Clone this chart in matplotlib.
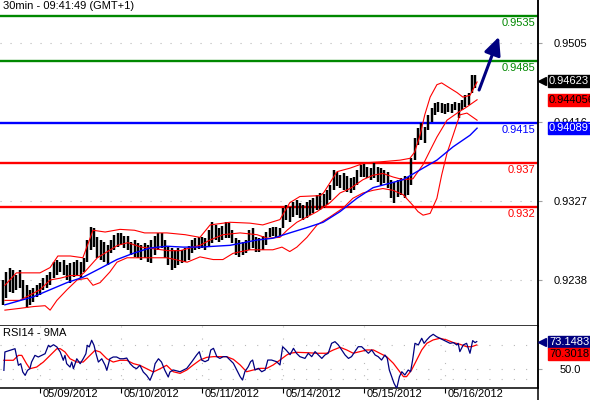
import matplotlib
matplotlib.use("Agg")
import matplotlib.pyplot as plt
from matplotlib import transforms
from matplotlib.lines import Line2D

# 30-min chart, bars read at hourly steps (hour 0 = 05/09 00:00, weekend skipped)
bar_hours = list(range(-11, 130))
bar_high = [0.9238, 0.9247, 0.9252, 0.9249, 0.9244, 0.9249, 0.9238, 0.9232, 0.9227, 0.9229, 0.9232,
            0.9235, 0.9240, 0.9244, 0.9247, 0.9258, 0.9260, 0.9258, 0.9260, 0.9255, 0.9257, 0.9258,
            0.9260, 0.9258, 0.9263, 0.9283, 0.9298, 0.9297, 0.9286, 0.9283, 0.9281, 0.9277, 0.9283,
            0.9289, 0.9291, 0.9291, 0.9288, 0.9288, 0.9281, 0.9283, 0.9280, 0.9277, 0.9280, 0.9277,
            0.9283, 0.9288, 0.9291, 0.9291, 0.9283, 0.9275, 0.9274, 0.9272, 0.9274, 0.9272, 0.9274,
            0.9276, 0.9283, 0.9285, 0.9286, 0.9286, 0.9285, 0.9294, 0.9303, 0.9300, 0.9297, 0.9299,
            0.9303, 0.9302, 0.9294, 0.9285, 0.9283, 0.9281, 0.9283, 0.9294, 0.9297, 0.9286, 0.9285,
            0.9288, 0.9292, 0.9297, 0.9298, 0.9298, 0.9297, 0.9319, 0.9322, 0.9320, 0.9326, 0.9328,
            0.9325, 0.9322, 0.9326, 0.9328, 0.9330, 0.9334, 0.9336, 0.9335, 0.9339, 0.9345, 0.9362,
            0.9360, 0.9356, 0.9359, 0.9355, 0.9353, 0.9354, 0.9362, 0.9367, 0.9369, 0.9365, 0.9364,
            0.9370, 0.9365, 0.9364, 0.9362, 0.9360, 0.9351, 0.9348, 0.9351, 0.9353, 0.9355, 0.9354,
            0.9375, 0.9398, 0.9409, 0.9415, 0.9410, 0.9424, 0.9432, 0.9437, 0.9438, 0.9437, 0.9436,
            0.9437, 0.9436, 0.9438, 0.9437, 0.9441, 0.9446, 0.9449, 0.9469, 0.9469]
bar_low = [0.9210, 0.9218, 0.9224, 0.9223, 0.9227, 0.9229, 0.9215, 0.9206, 0.9210, 0.9213, 0.9219,
           0.9221, 0.9227, 0.9229, 0.9232, 0.9240, 0.9244, 0.9247, 0.9244, 0.9238, 0.9235, 0.9241,
           0.9244, 0.9240, 0.9247, 0.9258, 0.9272, 0.9275, 0.9263, 0.9260, 0.9258, 0.9255, 0.9268,
           0.9272, 0.9275, 0.9277, 0.9274, 0.9272, 0.9266, 0.9264, 0.9263, 0.9260, 0.9263, 0.9258,
           0.9257, 0.9266, 0.9272, 0.9274, 0.9263, 0.9255, 0.9249, 0.9252, 0.9255, 0.9257, 0.9258,
           0.9260, 0.9268, 0.9272, 0.9273, 0.9274, 0.9272, 0.9275, 0.9280, 0.9283, 0.9281, 0.9283,
           0.9285, 0.9285, 0.9280, 0.9266, 0.9264, 0.9266, 0.9268, 0.9272, 0.9274, 0.9270, 0.9270,
           0.9272, 0.9277, 0.9286, 0.9288, 0.9286, 0.9288, 0.9297, 0.9306, 0.9303, 0.9309, 0.9311,
           0.9308, 0.9306, 0.9308, 0.9311, 0.9313, 0.9317, 0.9317, 0.9319, 0.9322, 0.9328, 0.9339,
           0.9344, 0.9342, 0.9339, 0.9337, 0.9336, 0.9339, 0.9345, 0.9354, 0.9354, 0.9353, 0.9351,
           0.9353, 0.9348, 0.9345, 0.9347, 0.9342, 0.9330, 0.9325, 0.9331, 0.9334, 0.9330, 0.9334,
           0.9345, 0.9373, 0.9390, 0.9396, 0.9392, 0.9407, 0.9416, 0.9424, 0.9427, 0.9426, 0.9425,
           0.9427, 0.9426, 0.9429, 0.9420, 0.9429, 0.9433, 0.9435, 0.9449, 0.9454]
last_price = 0.94623

upper_hours = [-10.4, -7, 0, 3, 5.3, 9, 12.7, 15.7, 19.3, 23.7, 28, 31, 37.6, 43, 47.4, 50.4, 56.3,
               62.2, 66, 71.1, 74, 77, 83, 84, 86, 88, 91.9, 96.3, 100.7, 106.7, 109.6, 111, 112.6,
               114, 115.6, 117.6, 119, 121.5, 123.6, 125.3, 127.4, 129.5]
upper_band = [0.9232, 0.9246, 0.9246, 0.9252, 0.9265, 0.9265, 0.9263, 0.9294, 0.9292, 0.9295, 0.9294,
              0.9291, 0.9291, 0.9289, 0.9286, 0.9300, 0.9303, 0.9302, 0.9300, 0.9306, 0.9325, 0.9332,
              0.9333, 0.9336, 0.9348, 0.9360, 0.9364, 0.9370, 0.9371, 0.9373, 0.9375, 0.9382, 0.9401,
              0.9424, 0.9444, 0.9458, 0.9460, 0.9454, 0.9449, 0.9444, 0.9446, 0.9461]
mid_hours = [-10.4, -6, 0, 3, 6, 9, 12, 13, 17, 20, 23, 26, 30, 34, 38, 41.5, 44.4, 47.4, 50.4, 54.2,
             59.3, 64.3, 67.3, 71.1, 73.2, 76.1, 79.1, 82.1, 85.9, 88.9, 91.9, 95.7, 98.7, 101.6, 104.6,
             107.6, 110.5, 113.5, 115.6, 117.6, 120.6, 123.6, 126.5, 129.5]
mid_band = [0.9215, 0.9215, 0.9227, 0.9238, 0.9240, 0.9243, 0.9243, 0.9246, 0.9263, 0.9270, 0.9277,
            0.9280, 0.9275, 0.9273, 0.9271, 0.9271, 0.9274, 0.9277, 0.9283, 0.9289, 0.9291, 0.9289,
            0.9285, 0.9286, 0.9294, 0.9303, 0.9309, 0.9315, 0.9325, 0.9336, 0.9341, 0.9351, 0.9356,
            0.9358, 0.9354, 0.9351, 0.9352, 0.9368, 0.9384, 0.9399, 0.9418, 0.9426, 0.9433, 0.9441]
lower_hours = [-10.4, -6, -2, 1.5, 3, 5, 8, 11, 14, 15.7, 17.8, 20.7, 22.8, 25.8, 32.6, 37.6, 43.6,
               47.4, 51.3, 54.2, 57.2, 62.2, 69, 71.7, 74, 76.1, 79.1, 82.1, 85.9, 89.8, 92.7, 95.7,
               98.7, 101.6, 104.6, 107.6, 110.5, 112, 113.5, 115.6, 117.6, 119, 120.6, 122.4, 124.4,
               126.5, 129.5]
lower_band = [0.9204, 0.9206, 0.9208, 0.9209, 0.9204, 0.9215, 0.9227, 0.9238, 0.9240, 0.9232, 0.9235,
              0.9247, 0.9258, 0.9263, 0.9263, 0.9263, 0.9258, 0.9264, 0.9261, 0.9261, 0.9268, 0.9272,
              0.9272, 0.9275, 0.9270, 0.9275, 0.9286, 0.9300, 0.9309, 0.9319, 0.9330, 0.9336, 0.9339,
              0.9341, 0.9339, 0.9334, 0.9322, 0.9315, 0.9311, 0.9313, 0.9330, 0.9356, 0.9381, 0.9401,
              0.9424, 0.9426, 0.9418]
slow_ma_hours = [-10.4, -2, 3, 8, 12.7, 17.8, 22.8, 27.6, 32.6, 37.6, 42.4, 47.4, 56.3, 64.3, 69, 74,
                 79.1, 83.9, 88.9, 93.9, 98.7, 103.7, 107.6, 112.6, 117.6, 122.4, 127.4, 129.5]
slow_ma = [0.9210, 0.9219, 0.9227, 0.9235, 0.9241, 0.9251, 0.9261, 0.9268, 0.9274, 0.9276, 0.9275,
           0.9275, 0.9277, 0.9283, 0.9285, 0.9291, 0.9297, 0.9303, 0.9315, 0.9330, 0.9342, 0.9347,
           0.9351, 0.9362, 0.9373, 0.9388, 0.9401, 0.9409]

levels = [0.9535, 0.9485, 0.9415, 0.937, 0.932]
level_labels = ["0.9535", "0.9485", "0.9415", "0.937", "0.932"]
level_colors = ["#008800", "#008800", "#0000ff", "#ff0000", "#ff0000"]

price_ticks = [0.9505, 0.9416, 0.9327, 0.9238]
price_tick_labels = ["0.9505", "0.9416", "0.9327", "0.9238"]

arrow_start = (130.1, 0.9452)
arrow_end = (136.0, 0.9512)

rsi_hours = [-10.7, -10.4, -8.9, -7.4, -6.9, -6.4, -5.7, -5.1, -4.4, -3.7, -3.0, -2.5, -1.5, -0.5, 0.5,
             1.5, 2.5, 3.0, 4.0, 5.0, 6.0, 6.9, 7.4, 7.9, 8.9, 9.4, 9.9, 10.9, 11.9, 12.8, 13.6, 14.0,
             14.6, 15.3, 16.0, 16.6, 17.3, 18.3, 19.3, 19.8, 20.7, 21.7, 22.7, 23.7, 24.7, 25.7, 26.7,
             27.7, 28.6, 29.6, 30.6, 31.6, 32.6, 33.6, 34.1, 35.1, 36.0, 37.0, 38.0, 38.5, 39.5, 41.5,
             43.5, 45.0, 46.4, 47.2, 47.9, 48.9, 49.9, 50.6, 51.4, 52.4, 53.3, 54.3, 55.3, 56.3, 57.3,
             58.3, 59.3, 60.0, 60.7, 61.7, 62.4, 63.0, 63.7, 64.7, 65.7, 66.7, 67.5, 68.6, 70.1, 71.1,
             71.9, 72.9, 74.1, 75.1, 76.0, 77.0, 78.5, 79.5, 80.5, 81.5, 82.5, 83.5, 84.4, 85.4, 86.4,
             87.4, 88.4, 89.4, 90.4, 91.4, 92.3, 93.3, 94.3, 95.3, 96.3, 97.3, 98.3, 99.3, 100.2, 101.2,
             102.2, 102.9, 103.5, 104.2, 104.9, 105.7, 106.5, 107.2, 108.1, 109.1, 109.8, 110.4, 111.1,
             112.1, 113.1, 113.8, 114.6, 115.5, 116.5, 117.5, 118.5, 119.5, 120.5, 121.5, 122.5, 123.5,
             123.9, 124.4, 125.4, 126.4, 127.4, 128.2, 128.9, 129.4]
rsi_values = [48.6, 64.3, 65.7, 67.1, 60.0, 52.9, 54.3, 47.2, 44.3, 48.6, 50.0, 55.7, 61.4, 60.0, 61.4,
              62.8, 70.0, 68.6, 70.5, 68.6, 64.3, 57.2, 61.4, 54.3, 51.4, 55.7, 50.0, 58.5, 54.3, 58.5,
              62.8, 70.0, 68.6, 74.3, 70.0, 62.8, 55.7, 58.5, 52.9, 48.6, 58.5, 60.0, 60.0, 58.5, 58.5,
              59.1, 54.3, 51.4, 50.0, 52.9, 47.2, 44.3, 40.1, 47.2, 54.3, 58.5, 55.7, 48.6, 42.9, 47.2,
              48.9, 47.4, 50.3, 56.0, 61.7, 64.5, 57.4, 56.0, 57.4, 66.0, 67.4, 60.3, 58.8, 60.3, 60.3,
              57.4, 54.6, 48.9, 43.2, 40.3, 47.4, 51.7, 56.0, 57.4, 48.9, 50.3, 47.4, 48.9, 57.4, 57.4,
              56.0, 53.2, 68.8, 66.0, 62.0, 67.4, 63.2, 60.3, 58.8, 63.2, 60.3, 64.6, 61.7, 58.8, 61.7,
              63.2, 71.7, 73.1, 70.3, 66.0, 61.7, 58.8, 60.3, 64.6, 68.8, 68.8, 66.0, 63.2, 66.0, 61.7,
              60.3, 57.4, 61.7, 58.8, 48.9, 43.2, 37.5, 33.2, 43.2, 47.4, 44.6, 48.9, 47.4, 57.4, 71.7,
              70.3, 76.0, 71.7, 74.6, 77.4, 79.4, 77.4, 76.0, 74.6, 73.1, 71.7, 72.3, 70.3, 71.7, 64.6,
              70.3, 71.7, 63.2, 74.0, 72.3, 73.1483]
rsi_ma_hours = [-10.7, -7.9, -6.4, -5.4, -4.0, -3.0, -1.0, 1.0, 3.0, 5.0, 6.0, 7.4, 8.9, 10.9, 12.8,
                14.8, 16.3, 17.8, 19.8, 21.7, 23.7, 25.7, 27.7, 29.6, 31.6, 33.6, 35.6, 37.5, 39.5, 41.5,
                43.5, 45.4, 47.4, 49.4, 51.4, 53.3, 55.3, 57.3, 59.3, 61.2, 63.2, 65.2, 67.2, 69.1, 71.1,
                73.1, 74.1, 76.0, 79.0, 82.0, 84.9, 86.9, 88.9, 90.9, 92.8, 94.8, 96.8, 98.8, 100.7,
                102.7, 104.7, 106.2, 107.7, 108.6, 110.1, 111.6, 113.1, 114.6, 116.5, 118.5, 120.5,
                122.5, 124.4, 126.4, 127.9, 129.4]
rsi_ma_values = [57.2, 57.2, 61.4, 61.4, 54.3, 50.0, 51.4, 55.7, 61.4, 67.1, 67.1, 64.3, 58.5, 55.7,
                 55.7, 61.4, 65.7, 64.3, 58.5, 55.7, 57.2, 57.2, 54.3, 52.9, 50.0, 47.2, 50.0, 52.9,
                 47.4, 46.0, 48.9, 53.2, 57.4, 59.7, 60.3, 60.3, 60.3, 58.0, 53.2, 47.4, 48.9, 50.3,
                 50.3, 53.2, 57.4, 61.7, 63.2, 64.0, 63.7, 63.2, 63.2, 66.0, 68.3, 66.0, 63.2, 64.6,
                 66.0, 66.0, 63.2, 60.3, 54.6, 48.9, 43.2, 43.2, 48.9, 57.4, 66.0, 71.7, 74.6, 76.0,
                 74.6, 72.3, 70.9, 68.8, 68.8, 70.3018]
rsi_grid = [70, 50, 41]

date_hours = [0, 24, 48, 72, 96, 120]
date_labels = ["05/09/2012", "05/10/2012", "05/11/2012", "05/14/2012", "05/15/2012", "05/16/2012"]

plt.rcParams["font.family"] = ["Liberation Sans", "DejaVu Sans"]
plt.rcParams["font.size"] = 8

W, H = 590, 400
fig = plt.figure(figsize=(W / 100, H / 100), dpi=100)
ax = fig.add_axes([0, 1 - 326 / H, 538 / W, 326 / H])
ax2 = fig.add_axes([0, 1 - 388 / H, 538 / W, 62 / H], sharex=ax)

# price panel
ax.vlines(bar_hours, bar_low, bar_high, color="black", lw=1.75, zorder=3)
ax.plot(upper_hours, upper_band, color="red", lw=0.8, zorder=4)
ax.plot(mid_hours, mid_band, color="red", lw=0.8, zorder=4)
ax.plot(lower_hours, lower_band, color="red", lw=0.8, zorder=4)
ax.plot(slow_ma_hours, slow_ma, color="#0000ff", lw=1.0, zorder=4)

for lvl, lab, col in zip(levels, level_labels, level_colors):
    ax.axhline(lvl, color=col, lw=1.7, zorder=2)
    ax.annotate(lab, xy=(1, lvl), xycoords=("axes fraction", "data"), xytext=(-2, -1.5),
                textcoords="offset points", ha="right", va="top", color=col)

ax.annotate("", xy=arrow_end, xytext=arrow_start,
            arrowprops=dict(arrowstyle="-|>,head_length=0.6,head_width=0.28", color="#000080",
                            lw=2.2, mutation_scale=18, shrinkA=0, shrinkB=0))

ax.set_xlim(-40 / 3.375, 498 / 3.375)
ax.set_ylim(0.955340 - 326 * 0.00011266, 0.955340)
ax.yaxis.tick_right()
ax.set_yticks(price_ticks)
ax.set_yticklabels(price_tick_labels)
ax.tick_params(axis="y", length=3, color="#a0a0a0", pad=20.5)
for lbl in ax.get_yticklabels():
    lbl.set_ha("center")
ax.tick_params(axis="x", bottom=False, labelbottom=False)
ax.yaxis.grid(True, color="#b8b8b8", lw=0.8, linestyle=(0, (1, 8)))
for s in ["top", "left"]:
    ax.spines[s].set_visible(False)
ax.spines["bottom"].set_linewidth(1.1)
ax.spines["right"].set_linewidth(1.1)

# RSI panel
for g in rsi_grid:
    ax2.axhline(g, color="#b8b8b8", lw=0.8, linestyle=(0, (1, 10)), zorder=1)
for d in date_hours:
    ax2.axvline(d, color="#b8b8b8", lw=0.8, linestyle=(0, (1, 10)), zorder=1)
ax2.plot(rsi_ma_hours, rsi_ma_values, color="red", lw=0.9, zorder=3)
ax2.plot(rsi_hours, rsi_values, color="#000080", lw=0.9, zorder=4)
ax2.set_ylim(33.5, 86.5)
ax2.yaxis.tick_right()
ax2.set_yticks([50])
ax2.set_yticklabels(["50.0"])
ax2.tick_params(axis="y", length=3, color="#a0a0a0", pad=20.5)
for lbl in ax2.get_yticklabels():
    lbl.set_ha("center")
ax2.set_xticks(date_hours)
ax2.tick_params(axis="x", length=3.6, width=0.8, color="black", labelbottom=False)
for d, lab in zip(date_hours, date_labels):
    ax2.annotate(lab, xy=(d, 0), xycoords=("data", "axes fraction"), xytext=(2, -1),
                 textcoords="offset points", ha="left", va="top")
for s in ["top", "left"]:
    ax2.spines[s].set_visible(False)
ax2.spines["bottom"].set_linewidth(1.1)
ax2.spines["right"].set_linewidth(1.1)

fig.add_artist(Line2D([538 / W, 538 / W], [0, 1], color="black", lw=1.1, transform=fig.transFigure))

fig.text(3 / W, 1 - 6 / H, "30min - 09:41:49 (GMT+1)", ha="left", va="center")
fig.text(3 / W, 1 - 333.5 / H, "RSI14 - 9MA", ha="left", va="center")


def value_box(axis, value, text, fc, tc, dy=0, pointer=False):
    trans = transforms.blended_transform_factory(fig.transFigure, axis.transData)
    off = transforms.offset_copy(trans, fig=fig, x=0, y=dy, units="dots")
    fig.text(549 / W, value, text, transform=off, ha="left", va="center", color=tc, zorder=6,
             bbox=dict(boxstyle="square,pad=0.1", fc=fc, ec=fc))
    if pointer:
        fig.add_artist(Line2D([542 / W], [value], marker="<", ms=6, color=fc, linestyle="none",
                              transform=off, zorder=6))


value_box(ax, last_price, "0.94623", "black", "white", pointer=True)
value_box(ax, mid_band[-1] + 0.0000056, "0.944056", "#ff0000", "black")
value_box(ax, slow_ma[-1] - 0.0000003, "0.940897", "#0000ff", "white")
value_box(ax2, rsi_values[-1], "73.1483", "#000080", "white", pointer=True)
value_box(ax2, rsi_ma_values[-1], "70.3018", "#ff0000", "black", dy=-9)

fig.savefig("out.png", dpi=100)
